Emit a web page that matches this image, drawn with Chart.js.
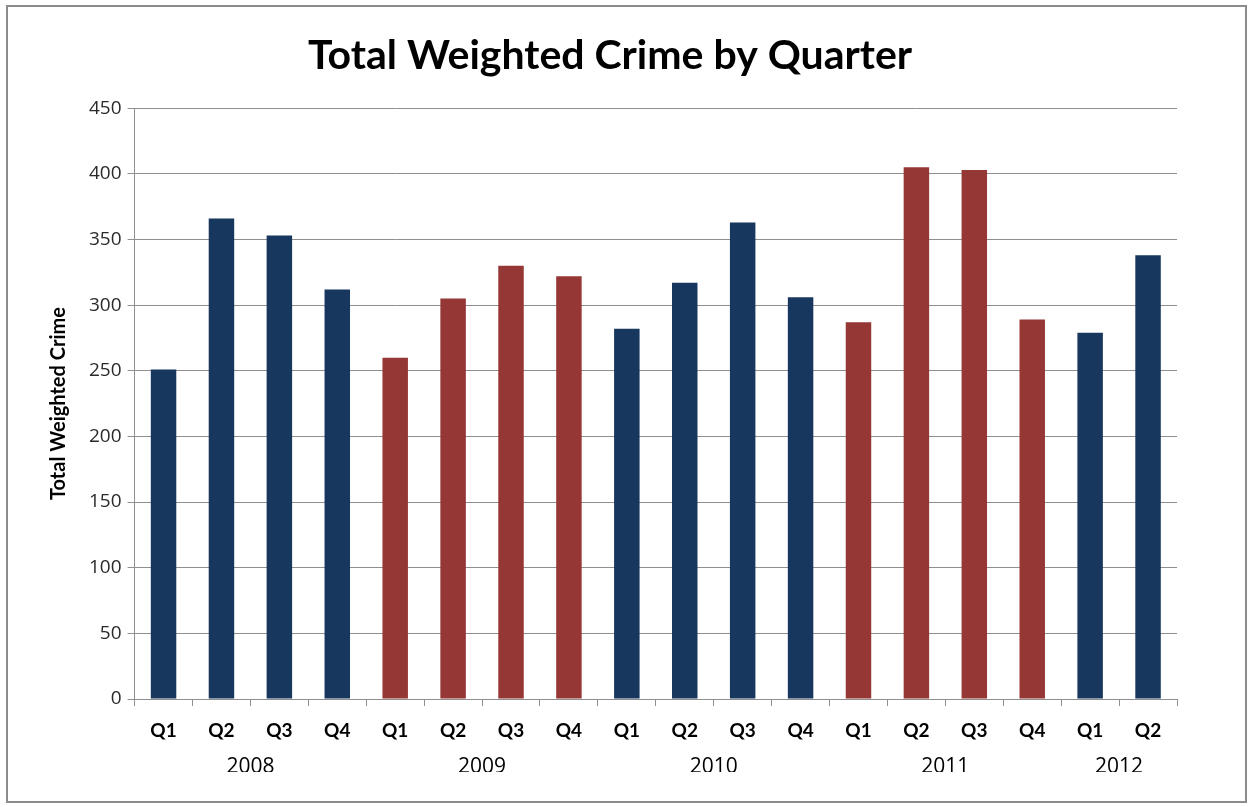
<!DOCTYPE html>
<html>
<head>
<meta charset="utf-8">
<script src="https://cdn.jsdelivr.net/npm/chart.js@4.4.1/dist/chart.umd.min.js"></script>
<style>
html,body{margin:0;padding:0;background:#fff;}
#wrap{position:absolute;left:6px;top:5px;width:1237px;height:794px;border:2px solid #8c8c8c;background:#fff;}
canvas{display:block;}
</style>
</head>
<body>
<div id="wrap"><canvas id="crimeChart" width="1237" height="794"></canvas></div>
<script>
/* datos */
const QUARTERS=['Q1','Q2','Q3','Q4','Q1','Q2','Q3','Q4','Q1','Q2','Q3','Q4','Q1','Q2','Q3','Q4','Q1','Q2'];
const YEARS=['2008','2009','2010','2011','2012'];
const YEAR_COUNTS=[4,4,4,4,2];
const CRIME=[251,366,353,312,260,305,330,322,282,317,363,306,287,405,403,289,279,338];
const NAVY='#17375E',RED='#953735';
const YEAR_COLORS=[NAVY,RED,NAVY,RED,NAVY];

// color de cada barra segun el año al que pertenece
const barColors=[];YEAR_COUNTS.forEach((n,k)=>{for(let i=0;i<n;i++)barColors.push(YEAR_COLORS[k]);});
// centro de cada grupo de trimestres, en unidades de categoria
const yearCenters=[];let acc=0;YEAR_COUNTS.forEach(n=>{yearCenters.push(acc+(n-1)/2);acc+=n;});

const FONT="'Open Sans', Lato, sans-serif";
new Chart(document.getElementById('crimeChart'),{
  type:'bar',
  data:{labels:QUARTERS,datasets:[{data:CRIME,backgroundColor:barColors,borderWidth:0,barPercentage:0.44,categoryPercentage:1}]},
  options:{
    responsive:false,animation:false,
    layout:{padding:{left:35,right:68,top:0,bottom:29}},
    plugins:{
      legend:{display:false},tooltip:{enabled:false},
      title:{display:true,text:'Total Weighted Crime by Quarter',color:'#000',font:{family:"Lato, sans-serif",size:41,weight:'bold'},padding:{top:24,bottom:28}}
    },
    scales:{
      y:{min:0,max:450,
        ticks:{stepSize:50,color:'#2a2a2a',font:{family:FONT,size:19},padding:6},
        grid:{color:'#8f8f8f',lineWidth:1,tickLength:7},
        border:{color:'#8f8f8f'},
        title:{display:true,text:'Total Weighted Crime',color:'#000',font:{family:"Lato, sans-serif",size:20,weight:'bold'},padding:{bottom:12}}
      },
      x:{
        ticks:{color:'#000',font:{family:"'Liberation Sans Narrow', Lato, sans-serif",size:19,weight:'bold'},padding:13,maxRotation:0,autoSkip:false},
        grid:{drawOnChartArea:false,color:'#8f8f8f',tickLength:7,offset:true},
        border:{color:'#8f8f8f'}
      },
      year:{type:'linear',position:'bottom',offset:false,min:-0.5,max:QUARTERS.length-0.5,
        afterBuildTicks:ax=>{ax.ticks=yearCenters.map(v=>({value:v}));},
        ticks:{callback:(v,i)=>YEARS[i],color:'#000',font:{family:FONT,size:21},padding:-8,maxRotation:0,autoSkip:false},
        grid:{display:false},border:{display:false}
      }
    }
  }
});
</script>
</body>
</html>
